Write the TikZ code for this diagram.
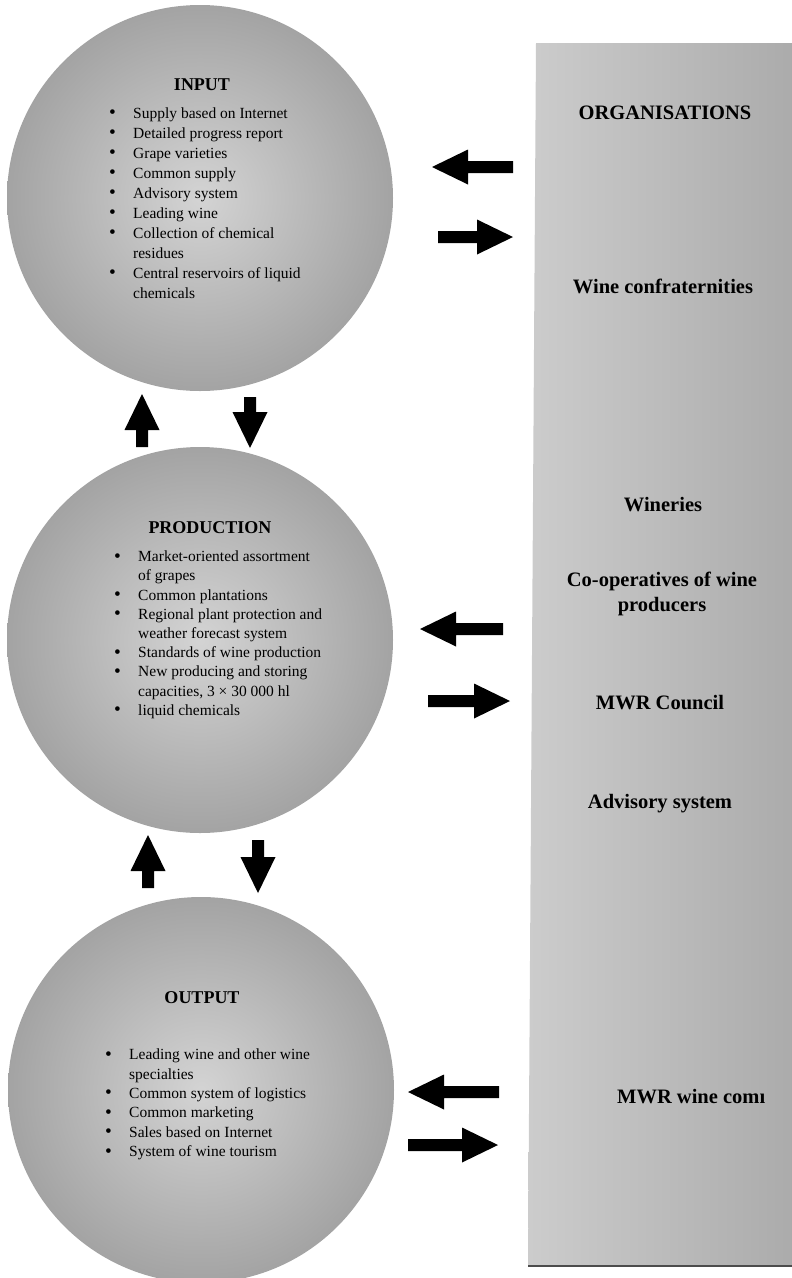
\documentclass[tikz,border=0pt]{standalone}
\usepackage{fontspec}
\usepackage{graphicx}
\setmainfont{Liberation Serif}
\usetikzlibrary{calc}
\tikzset{
  disc/.style={circle, inner sep=0pt, minimum size=386pt, shading=radial,
    inner color=black!17, outer color=black!36},
  ttl/.style={font=\fontsize{18}{20}\selectfont\bfseries, inner sep=0pt, anchor=base},
  lst/.style={align=left, anchor=north west, inner sep=0pt},
  org/.style={font=\fontsize{20.5}{24.5}\selectfont\bfseries, inner sep=0pt, anchor=base, align=center},
  blockfill/.style={fill=black},
}
\newcommand\bl{\makebox[24pt][l]{\raisebox{-0.4pt}{\scalebox{1.25}{\textbullet}}}}
\newcommand\ind{\hspace*{24pt}}
% block arrow from tail #1 to tip #2
\newcommand\blockarrow[2]{%
  \path ($(#2)!36pt!(#1)$) coordinate (ab);
  \fill[blockfill] ($(#1)!6pt!90:(#2)$) -- ($(ab)!6pt!90:(#2)$) -- ($(ab)!17.5pt!90:(#2)$)
    -- (#2) -- ($(ab)!17.5pt!-90:(#2)$) -- ($(ab)!6pt!-90:(#2)$) -- ($(#1)!6pt!-90:(#2)$) -- cycle;
}
\begin{document}
\begin{tikzpicture}[x=1pt,y=-1pt]
\useasboundingbox (0,0) rectangle (792,1278);
\clip (0,0) rectangle (792,1278);

% organisations panel
\shade[left color=black!20, right color=black!33] (536,43) -- (796,43) -- (796,1266) -- (528,1266) -- cycle;
\draw[black!70, line width=1.5pt] (528,1266) -- (796,1266);

% circles
\node[disc] (input) at (200,198) {};
\node[disc] (production) at (200,640) {};
\node[disc] (output) at (201,1090) {};

% circle titles
\node[ttl] (inputttl) at (202,90) {INPUT};
\node[ttl] (prodttl) at (210,533) {PRODUCTION};
\node[ttl] (outttl) at (202,1003) {OUTPUT};

% circle lists
\node[lst, font=\fontsize{15.5}{20}\selectfont] (inputlist) at (109,104) {%
\strut\bl Supply based on Internet\\
\bl Detailed progress report\\
\bl Grape varieties\\
\bl Common supply\\
\bl Advisory system\\
\bl Leading wine\\
\bl Collection of chemical\\
\ind residues\\
\bl Central reservoirs of liquid\\
\ind chemicals};

\node[lst, font=\fontsize{15.5}{19.2}\selectfont] (prodlist) at (114,548) {%
\strut\bl Market-oriented assortment\\
\ind of grapes\\
\bl Common plantations\\
\bl Regional plant protection and\\
\ind weather forecast system\\
\bl Standards of wine production\\
\bl New producing and storing\\
\ind capacities, 3 × 30 000 hl\\
\bl liquid chemicals};

\node[lst, font=\fontsize{15.5}{19.4}\selectfont] (outlist) at (105,1046) {%
\strut\bl Leading wine and other wine\\
\ind specialties\\
\bl Common system of logistics\\
\bl Common marketing\\
\bl Sales based on Internet\\
\bl System of wine tourism};

% organisation texts
\node[org] (orgs) at (665,119) {ORGANISATIONS};
\node[org] (confr) at (663,293) {Wine confraternities};
\node[org] (wineries) at (663,511) {Wineries};
\node[org] (coop) at (662,611) {Co-operatives of wine\\producers};
\node[org] (council) at (660,709) {MWR Council};
\node[org] (advisory) at (660,808) {Advisory system};
\node[org, anchor=base west] (committee) at (617,1103) {MWR wine comı};

% arrow end points
\coordinate (h1t) at (513,167);  \coordinate (h1h) at (432,167);
\coordinate (h2t) at (438,237);  \coordinate (h2h) at (513,237);
\coordinate (h3t) at (503,629);  \coordinate (h3h) at (420,629);
\coordinate (h4t) at (428,701);  \coordinate (h4h) at (510,701);
\coordinate (h5t) at (499,1092); \coordinate (h5h) at (408,1092);
\coordinate (h6t) at (408,1145); \coordinate (h6h) at (498,1145);
\coordinate (v1t) at (142,447);  \coordinate (v1h) at (142,394);
\coordinate (v2t) at (250,397);  \coordinate (v2h) at (250,448);
\coordinate (v3t) at (148,888);  \coordinate (v3h) at (148,835);
\coordinate (v4t) at (258,840);  \coordinate (v4h) at (258,893);

\blockarrow{h1t}{h1h}
\blockarrow{h2t}{h2h}
\blockarrow{h3t}{h3h}
\blockarrow{h4t}{h4h}
\blockarrow{h5t}{h5h}
\blockarrow{h6t}{h6h}
\blockarrow{v1t}{v1h}
\blockarrow{v2t}{v2h}
\blockarrow{v3t}{v3h}
\blockarrow{v4t}{v4h}
\end{tikzpicture}
\end{document}
